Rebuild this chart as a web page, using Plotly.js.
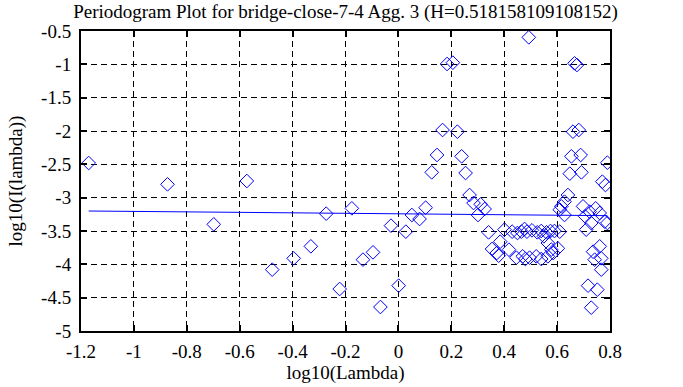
<!DOCTYPE html>
<html>
<head>
<meta charset="utf-8">
<script src="https://cdn.plot.ly/plotly-3.0.1.min.js"></script>
<style>html,body{margin:0;padding:0;background:#fff;}#chart{width:683px;height:387px;}</style>
</head>
<body>
<div id="chart"></div>
<script>
// Periodogram points: log10(lambda) vs log10(I(lambda))
const logLambda = [
  -1.171, -0.873, -0.573, -0.698, -0.477, -0.396, -0.331, -0.273, -0.222, -0.176,
  -0.134, -0.096, -0.068, -0.028, 0.001, 0.028, 0.051, 0.080, 0.103, 0.126,
  0.146, 0.167, 0.184, 0.206, 0.223, 0.239, 0.254, 0.269, 0.284, 0.311,
  0.326, 0.301, 0.341, 0.354, 0.372, 0.379, 0.385, 0.401, 0.418, 0.430,
  0.450, 0.465, 0.477, 0.446, 0.480, 0.493, 0.486, 0.505, 0.525, 0.540,
  0.560, 0.575, 0.590, 0.470, 0.496, 0.521, 0.540, 0.565, 0.550, 0.565,
  0.578, 0.585, 0.603, 0.610, 0.648, 0.692, 0.771, 0.783, 0.641, 0.628,
  0.616, 0.610, 0.628, 0.698, 0.723, 0.746, 0.761, 0.780, 0.706, 0.729,
  0.710, 0.790, 0.761, 0.736, 0.767, 0.742, 0.767, 0.717, 0.752, 0.729,
  0.666, 0.675, 0.660, 0.682, 0.654, 0.689, 0.790
];
const logPower = [
  -2.48, -2.80, -2.75, -3.40, -4.08, -3.91, -3.73, -3.24, -4.37, -3.16,
  -3.93, -3.82, -4.64, -3.42, -4.32, -3.51, -3.26, -3.32, -3.15, -2.62,
  -2.36, -1.985, -0.995, -0.975, -2.01, -2.38, -2.63, -2.96, -3.08, -3.10,
  -3.17, -3.26, -3.52, -3.77, -3.83, -3.87, -3.66, -3.48, -3.78, -3.51,
  -3.53, -3.51, -3.47, -3.90, -3.92, -0.595, -3.51, -3.49, -3.52, -3.50,
  -3.52, -3.50, -3.50, -3.88, -3.90, -3.88, -3.92, -3.88, -3.58, -3.68,
  -3.78, -3.83, -3.76, -3.51, -2.64, -2.62, -2.76, -2.81, -2.96, -3.06,
  -3.13, -3.18, -3.26, -3.13, -3.21, -3.16, -3.23, -3.36, -3.28, -3.38,
  -3.48, -3.38, -3.73, -3.81, -3.91, -3.93, -4.08, -4.32, -4.38, -4.65,
  -0.985, -1.01, -2.01, -1.985, -2.38, -2.36, -2.475
];
// Fitted regression line end points
const fitX = [-1.171, 0.790];
const fitY = [-3.20, -3.27];

const xTickVals = [-1.2, -1, -0.8, -0.6, -0.4, -0.2, 0, 0.2, 0.4, 0.6, 0.8];
const xTickText = ["-1.2", "-1", "-0.8", "-0.6", "-0.4", "-0.2", "0", "0.2", "0.4", "0.6", "0.8"];
const yTickVals = [-0.5, -1, -1.5, -2, -2.5, -3, -3.5, -4, -4.5, -5];
const yTickText = ["-0.5", "-1", "-1.5", "-2", "-2.5", "-3", "-3.5", "-4", "-4.5", "-5"];

const titleText = "Periodogram Plot for bridge-close-7-4 Agg. 3 (H=0.518158109108152)";
const xTitle = "log10(Lambda)";
const yTitle = "log10(I(lambda))";

const FONT = "Liberation Serif, Times New Roman, serif";

const traces = [
  {
    x: logLambda, y: logPower, type: "scatter", mode: "markers",
    marker: {symbol: "diamond-open", size: 10.5, color: "#0000ff", line: {width: 1, color: "#0000ff"}},
    hoverinfo: "skip", showlegend: false
  },
  {
    x: fitX, y: fitY, type: "scatter", mode: "lines",
    line: {color: "#0000ff", width: 1},
    hoverinfo: "skip", showlegend: false
  }
];

const axisCommon = {
  showline: true, linecolor: "#000", linewidth: 2, mirror: "allticks",
  ticks: "inside", ticklen: 6, tickwidth: 2, tickcolor: "#000",
  showgrid: true, gridcolor: "#000", gridwidth: 1, griddash: "6px,4px",
  zeroline: false, tickmode: "array",
  tickfont: {family: FONT, size: 19, color: "#000"}
};

const layout = {
  width: 683, height: 387,
  margin: {l: 81, r: 73, t: 31, b: 56, pad: 0},
  paper_bgcolor: "#fff", plot_bgcolor: "#fff",
  font: {family: FONT, size: 19, color: "#000"},
  title: {text: titleText, font: {family: FONT, size: 19, color: "#000"},
          x: 0.5, xref: "paper", y: 1 - 11/387, yref: "container", yanchor: "middle"},
  xaxis: Object.assign({}, axisCommon, {
    range: [-1.2, 0.8], tickvals: xTickVals, ticktext: xTickText,
    ticklabelstandoff: 2,
    title: {text: xTitle, font: {family: FONT, size: 19, color: "#000"}, standoff: 4}
  }),
  yaxis: Object.assign({}, axisCommon, {
    range: [-5, -0.5], tickvals: yTickVals, ticktext: yTickText,
    ticklabelstandoff: 4,
    title: {text: yTitle, font: {family: FONT, size: 19, color: "#000"}, standoff: 13}
  })
};

Plotly.newPlot("chart", traces, layout, {displayModeBar: false, staticPlot: true});
</script>
</body>
</html>
